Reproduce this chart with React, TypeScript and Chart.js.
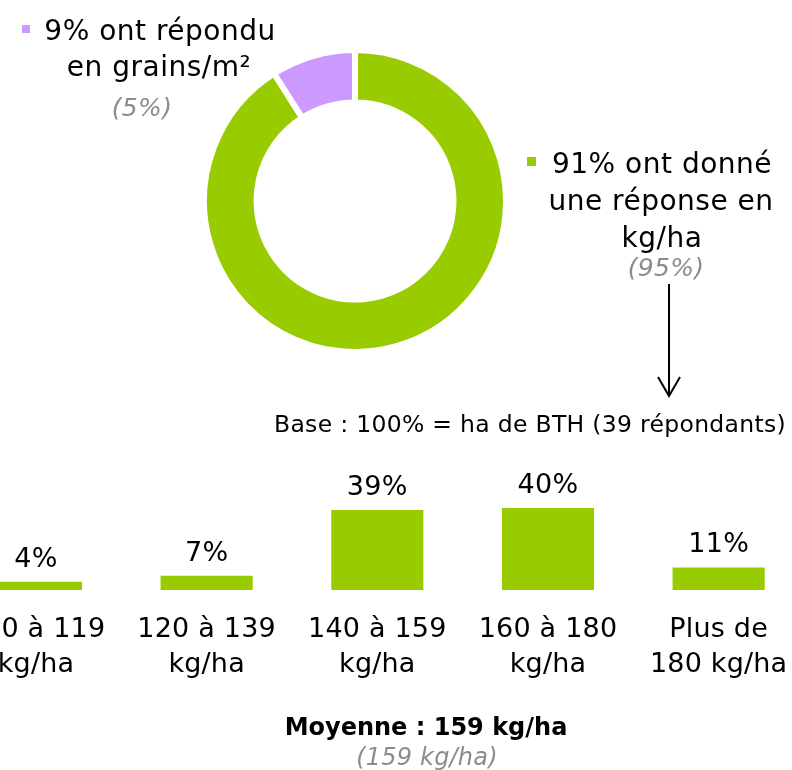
import React, { useEffect, useRef } from "react";
import { Chart, registerables } from "chart.js";

Chart.register(...registerables);

// ---- data ----
const donutLabels = ["ont donné une réponse en kg/ha", "ont répondu en grains/m²"];
const donutValues = [91, 9];
const donutColors = ["#99cc00", "#cc99ff"];

const barCategories = [
  ["100 à 119", "kg/ha"],
  ["120 à 139", "kg/ha"],
  ["140 à 159", "kg/ha"],
  ["160 à 180", "kg/ha"],
  ["Plus de", "180 kg/ha"],
];
const barValues = [4, 7, 39, 40, 11];
const barColor = "#99cc00";

const FONT = "DejaVu Sans";
const GRAY = "#8c8c8c";

const barLabelPlugin = {
  id: "barLabels",
  beforeDraw(chart: any) {
    try {
      chart.ctx.letterSpacing = "0.2px";
    } catch (e) {}
  },
  afterDatasetsDraw(chart: any) {
    const ctx = chart.ctx;
    const meta = chart.getDatasetMeta(0);
    ctx.save();
    try {
      ctx.letterSpacing = "0.3px";
    } catch (e) {}
    ctx.font = `27px "${FONT}"`;
    ctx.fillStyle = "#000";
    ctx.textAlign = "center";
    ctx.textBaseline = "alphabetic";
    meta.data.forEach((bar: any, i: number) => {
      ctx.fillText(`${barValues[i]}%`, bar.x, bar.y - 15);
    });
    ctx.restore();
  },
};

export default function App() {
  const donutRef = useRef<HTMLCanvasElement>(null);
  const barRef = useRef<HTMLCanvasElement>(null);

  useEffect(() => {
    const d = new Chart(donutRef.current!, {
      type: "doughnut",
      data: {
        labels: donutLabels,
        datasets: [
          {
            data: donutValues,
            backgroundColor: donutColors,
            borderColor: "#ffffff",
            borderWidth: 6,
            hoverOffset: 0,
          },
        ],
      },
      options: {
        responsive: false,
        animation: false,
        cutout: "65.2%",
        layout: { padding: 0 },
        plugins: { legend: { display: false }, tooltip: { enabled: false } },
        events: [],
      },
    });

    const b = new Chart(barRef.current!, {
      type: "bar",
      data: {
        labels: barCategories,
        datasets: [
          {
            data: barValues,
            backgroundColor: barColor,
            borderWidth: 0,
            categoryPercentage: 1,
            barPercentage: 0.54,
          },
        ],
      },
      options: {
        responsive: false,
        animation: false,
        layout: { padding: 0 },
        events: [],
        plugins: { legend: { display: false }, tooltip: { enabled: false } },
        scales: {
          x: {
            grid: { display: false, drawTicks: false },
            border: { display: false },
            ticks: {
              color: "#000",
              padding: 22,
              maxRotation: 0,
              autoSkip: false,
              font: { family: FONT, size: 27, lineHeight: 1.296 },
            },
          },
          y: {
            display: false,
            min: 0,
            max: 62,
          },
        },
      },
      plugins: [barLabelPlugin],
    });

    return () => {
      d.destroy();
      b.destroy();
    };
  }, []);

  return (
    <div
      style={{
        position: "fixed",
        left: 0,
        top: 0,
        width: 792,
        height: 770,
        overflow: "hidden",
        background: "#fff",
      }}
    >
      <canvas
        ref={donutRef}
        width={308}
        height={308}
        style={{ position: "absolute", left: 201, top: 47, width: 308, height: 308 }}
      />
      <canvas
        ref={barRef}
        width={862}
        height={241}
        style={{ position: "absolute", left: -54, top: 463, width: 862, height: 241 }}
      />
      <svg
        width={792}
        height={770}
        style={{ position: "absolute", left: 0, top: 0, pointerEvents: "none" }}
        fontFamily={FONT}
      >
        {/* left legend */}
        <rect x={22} y={25} width={8} height={8} fill={donutColors[1]} />
        <text x={160} y={40} textAnchor="middle" fontSize={28} letterSpacing={0.5} fill="#000">
          9% ont répondu
        </text>
        <text x={159} y={76} textAnchor="middle" fontSize={28} letterSpacing={0.5} fill="#000">
          en grains/m²
        </text>
        <text x={142} y={116} textAnchor="middle" fontSize={25} letterSpacing={0.3} fontStyle="italic" fill={GRAY}>
          (5%)
        </text>

        {/* right legend */}
        <rect x={527} y={157} width={9} height={9} fill={donutColors[0]} />
        <text x={662} y={173} textAnchor="middle" fontSize={28} letterSpacing={0.5} fill="#000">
          91% ont donné
        </text>
        <text x={661} y={210} textAnchor="middle" fontSize={28} letterSpacing={0.5} fill="#000">
          une réponse en
        </text>
        <text x={662} y={247} textAnchor="middle" fontSize={28} letterSpacing={0.5} fill="#000">
          kg/ha
        </text>
        <text x={666} y={276} textAnchor="middle" fontSize={25} letterSpacing={0.3} fontStyle="italic" fill={GRAY}>
          (95%)
        </text>

        {/* arrow */}
        <line x1={669} y1={284} x2={669} y2={395} stroke="#000" strokeWidth={2} />
        <polyline points="658,377 669,396 680,377" fill="none" stroke="#000" strokeWidth={2} />

        {/* base */}
        <text x={274} y={432} fontSize={23.5} letterSpacing={0.3} fill="#000">
          Base : 100% = ha de BTH (39 répondants)
        </text>

        {/* moyenne */}
        <text x={426} y={735} textAnchor="middle" fontSize={24} fontWeight="bold" fill="#000">
          Moyenne : 159 kg/ha
        </text>
        <text x={427} y={765} textAnchor="middle" fontSize={24} fontStyle="italic" letterSpacing={0.2} fill={GRAY}>
          (159 kg/ha)
        </text>
      </svg>
    </div>
  );
}
